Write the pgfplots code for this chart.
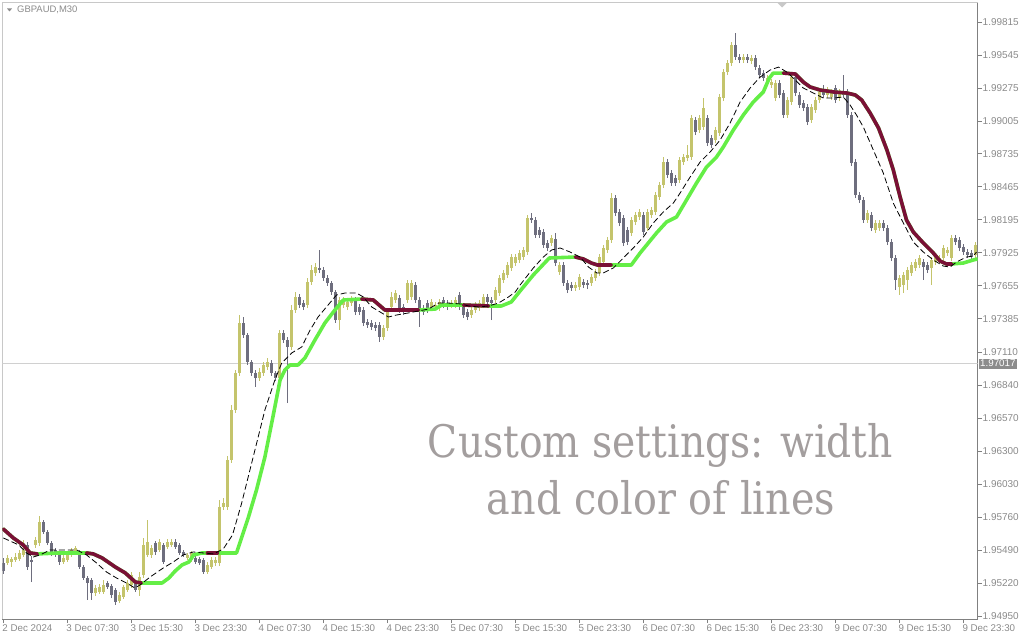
\documentclass[border=0pt]{standalone}
\usepackage{pgfplots}
\pgfplotsset{compat=1.18}
\usepackage{pgfplotstable}
\usepackage{graphicx}
\usepackage{fontspec}
\setmainfont{Liberation Sans}
\newfontfamily\slab{DejaVu Serif}
\definecolor{upc}{RGB}{196,196,108}
\definecolor{dnc}{RGB}{110,110,126}
\definecolor{lgreen}{RGB}{100,238,70}
\definecolor{maroonc}{RGB}{122,16,54}
\definecolor{axgray}{RGB}{128,128,128}
\definecolor{lblgray}{RGB}{138,138,138}
\definecolor{framec}{RGB}{200,200,200}
\definecolor{txtgray}{RGB}{163,158,158}

\pgfplotstableread{
x o h l c
0 1.95384 1.95425 1.95294 1.95319
1 1.95384 1.95450 1.95368 1.95425
2 1.95392 1.95433 1.95351 1.95417
3 1.95409 1.95466 1.95392 1.95433
4 1.95417 1.95491 1.95400 1.95466
5 1.95450 1.95572 1.95433 1.95491
6 1.95531 1.95556 1.95327 1.95351
7 1.95409 1.95441 1.95228 1.95392
8 1.95531 1.95597 1.95507 1.95572
9 1.95548 1.95769 1.95523 1.95720
10 1.95720 1.95736 1.95622 1.95638
11 1.95638 1.95654 1.95531 1.95548
12 1.95548 1.95564 1.95441 1.95466
13 1.95491 1.95507 1.95433 1.95450
14 1.95450 1.95466 1.95368 1.95392
15 1.95392 1.95450 1.95376 1.95425
16 1.95409 1.95482 1.95392 1.95466
17 1.95450 1.95507 1.95433 1.95491
18 1.95466 1.95523 1.95450 1.95507
19 1.95474 1.95491 1.95335 1.95351
20 1.95351 1.95368 1.95245 1.95261
21 1.95261 1.95278 1.95081 1.95220
22 1.95245 1.95261 1.95081 1.95138
23 1.95138 1.95204 1.95114 1.95179
24 1.95147 1.95212 1.95130 1.95187
25 1.95147 1.95245 1.95130 1.95204
26 1.95220 1.95237 1.95171 1.95187
27 1.95196 1.95212 1.95097 1.95122
28 1.95163 1.95179 1.95040 1.95065
29 1.95073 1.95147 1.95056 1.95122
30 1.95106 1.95204 1.95089 1.95187
31 1.95163 1.95245 1.95147 1.95220
32 1.95204 1.95310 1.95179 1.95286
33 1.95220 1.95237 1.95147 1.95163
34 1.95163 1.95310 1.95114 1.95269
35 1.95286 1.95589 1.95261 1.95531
36 1.95450 1.95736 1.95433 1.95556
37 1.95450 1.95531 1.95425 1.95507
38 1.95548 1.95564 1.95450 1.95474
39 1.95491 1.95581 1.95474 1.95556
40 1.95531 1.95548 1.95376 1.95392
41 1.95515 1.95581 1.95499 1.95556
42 1.95531 1.95581 1.95515 1.95556
43 1.95556 1.95581 1.95499 1.95515
44 1.95531 1.95548 1.95450 1.95466
45 1.95474 1.95491 1.95433 1.95450
46 1.95425 1.95466 1.95409 1.95450
47 1.95409 1.95482 1.95392 1.95466
48 1.95425 1.95441 1.95376 1.95392
49 1.95417 1.95433 1.95368 1.95384
50 1.95409 1.95425 1.95294 1.95310
51 1.95310 1.95392 1.95294 1.95368
52 1.95351 1.95433 1.95335 1.95409
53 1.95384 1.95433 1.95359 1.95409
54 1.95384 1.95900 1.95359 1.95843
55 1.95843 1.95916 1.95818 1.95875
56 1.95843 1.96260 1.95818 1.96228
57 1.96228 1.96678 1.96203 1.96637
58 1.96637 1.96965 1.96612 1.96940
59 1.96940 1.97415 1.96916 1.97350
60 1.97350 1.97399 1.97227 1.97251
61 1.97251 1.97268 1.97006 1.97030
62 1.97030 1.97047 1.96916 1.96940
63 1.96940 1.96965 1.96826 1.96899
64 1.96899 1.96981 1.96875 1.96948
65 1.96940 1.97030 1.96916 1.97006
66 1.96989 1.97063 1.96965 1.97030
67 1.97022 1.97047 1.96916 1.96940
68 1.96940 1.96957 1.96875 1.96899
69 1.96899 1.97292 1.96875 1.97268
70 1.97268 1.97292 1.97186 1.97210
71 1.97210 1.97235 1.96694 1.97153
72 1.97153 1.97497 1.97129 1.97456
73 1.97456 1.97604 1.97432 1.97563
74 1.97563 1.97587 1.97472 1.97497
75 1.97513 1.97538 1.97456 1.97481
76 1.97497 1.97718 1.97472 1.97685
77 1.97685 1.97825 1.97661 1.97784
78 1.97759 1.97841 1.97735 1.97808
79 1.97800 1.97948 1.97759 1.97784
80 1.97784 1.97808 1.97694 1.97718
81 1.97718 1.97743 1.97653 1.97677
82 1.97677 1.97694 1.97579 1.97604
83 1.97604 1.97620 1.97350 1.97374
84 1.97374 1.97563 1.97292 1.97538
85 1.97497 1.97563 1.97472 1.97538
86 1.97481 1.97546 1.97456 1.97522
87 1.97513 1.97571 1.97489 1.97538
88 1.97538 1.97563 1.97415 1.97440
89 1.97481 1.97505 1.97415 1.97440
90 1.97456 1.97481 1.97325 1.97350
91 1.97358 1.97382 1.97309 1.97333
92 1.97350 1.97374 1.97292 1.97317
93 1.97333 1.97358 1.97284 1.97309
94 1.97333 1.97358 1.97194 1.97235
95 1.97235 1.97333 1.97210 1.97309
96 1.97309 1.97464 1.97284 1.97440
97 1.97481 1.97604 1.97456 1.97563
98 1.97538 1.97620 1.97513 1.97595
99 1.97554 1.97579 1.97432 1.97456
100 1.97481 1.97505 1.97415 1.97440
101 1.97538 1.97702 1.97513 1.97677
102 1.97563 1.97702 1.97538 1.97677
103 1.97661 1.97685 1.97513 1.97538
104 1.97538 1.97563 1.97317 1.97456
105 1.97472 1.97497 1.97415 1.97440
106 1.97513 1.97538 1.97432 1.97456
107 1.97481 1.97546 1.97456 1.97522
108 1.97481 1.97522 1.97456 1.97497
109 1.97472 1.97546 1.97448 1.97522
110 1.97538 1.97563 1.97472 1.97497
111 1.97513 1.97538 1.97456 1.97481
112 1.97497 1.97538 1.97472 1.97513
113 1.97497 1.97563 1.97472 1.97538
114 1.97579 1.97604 1.97456 1.97481
115 1.97481 1.97505 1.97391 1.97415
116 1.97440 1.97464 1.97374 1.97399
117 1.97415 1.97481 1.97391 1.97456
118 1.97456 1.97522 1.97432 1.97497
119 1.97472 1.97538 1.97448 1.97513
120 1.97497 1.97587 1.97472 1.97563
121 1.97563 1.97587 1.97497 1.97522
122 1.97538 1.97563 1.97374 1.97513
123 1.97538 1.97644 1.97513 1.97620
124 1.97595 1.97743 1.97571 1.97718
125 1.97702 1.97784 1.97677 1.97759
126 1.97743 1.97849 1.97718 1.97825
127 1.97800 1.97915 1.97776 1.97890
128 1.97841 1.97915 1.97816 1.97890
129 1.97866 1.97948 1.97841 1.97923
130 1.97890 1.97972 1.97866 1.97948
131 1.97931 1.98234 1.97907 1.98210
132 1.98210 1.98251 1.98169 1.98193
133 1.98193 1.98218 1.98046 1.98070
134 1.98111 1.98136 1.98046 1.98070
135 1.98095 1.98120 1.97964 1.97988
136 1.98005 1.98029 1.97939 1.97964
137 1.98005 1.98070 1.97980 1.98046
138 1.98038 1.98087 1.97816 1.97841
139 1.97767 1.97849 1.97743 1.97825
140 1.97825 1.97849 1.97653 1.97677
141 1.97677 1.97702 1.97595 1.97620
142 1.97661 1.97685 1.97612 1.97636
143 1.97636 1.97685 1.97612 1.97661
144 1.97644 1.97751 1.97620 1.97726
145 1.97685 1.97710 1.97636 1.97661
146 1.97677 1.97702 1.97628 1.97661
147 1.97677 1.97751 1.97653 1.97726
148 1.97718 1.97792 1.97694 1.97767
149 1.97759 1.97915 1.97735 1.97890
150 1.97849 1.97988 1.97825 1.97964
151 1.97948 1.98054 1.97923 1.98029
152 1.98029 1.98414 1.98005 1.98373
153 1.98373 1.98398 1.98226 1.98251
154 1.98259 1.98283 1.98144 1.98169
155 1.98210 1.98234 1.97980 1.98005
156 1.98111 1.98136 1.97988 1.98013
157 1.98087 1.98218 1.98062 1.98193
158 1.98177 1.98259 1.98152 1.98234
159 1.98218 1.98283 1.98193 1.98259
160 1.98234 1.98259 1.98070 1.98095
161 1.98128 1.98283 1.98103 1.98259
162 1.98234 1.98300 1.98210 1.98275
163 1.98259 1.98423 1.98234 1.98398
164 1.98382 1.98504 1.98357 1.98480
165 1.98480 1.98709 1.98455 1.98668
166 1.98668 1.98693 1.98537 1.98562
167 1.98578 1.98603 1.98472 1.98496
168 1.98537 1.98562 1.98472 1.98496
169 1.98521 1.98709 1.98496 1.98685
170 1.98668 1.98734 1.98644 1.98709
171 1.98701 1.98807 1.98676 1.98726
172 1.98709 1.99053 1.98685 1.99029
173 1.99012 1.99037 1.98889 1.98914
174 1.98930 1.99053 1.98906 1.99029
175 1.98955 1.99192 1.98930 1.99110
176 1.99029 1.99053 1.98799 1.98824
177 1.98865 1.98889 1.98783 1.98807
178 1.98848 1.98955 1.98824 1.98930
179 1.98906 1.99225 1.98881 1.99201
180 1.99192 1.99430 1.99168 1.99405
181 1.99405 1.99504 1.99381 1.99479
182 1.99479 1.99651 1.99454 1.99626
183 1.99626 1.99725 1.99504 1.99528
184 1.99528 1.99553 1.99479 1.99504
185 1.99504 1.99553 1.99479 1.99528
186 1.99528 1.99553 1.99479 1.99504
187 1.99495 1.99545 1.99471 1.99520
188 1.99520 1.99545 1.99422 1.99446
189 1.99438 1.99463 1.99356 1.99381
190 1.99397 1.99422 1.99332 1.99356
191 1.99315 1.99381 1.99291 1.99356
192 1.99299 1.99348 1.99274 1.99323
193 1.99192 1.99340 1.99168 1.99315
194 1.99315 1.99340 1.99192 1.99217
195 1.99233 1.99258 1.99029 1.99053
196 1.99053 1.99201 1.99029 1.99176
197 1.99160 1.99389 1.99135 1.99364
198 1.99364 1.99389 1.99209 1.99233
199 1.99217 1.99242 1.99110 1.99135
200 1.99151 1.99176 1.99086 1.99110
201 1.99119 1.99143 1.98971 1.98996
202 1.99012 1.99143 1.98988 1.99119
203 1.99094 1.99201 1.99070 1.99176
204 1.99176 1.99266 1.99151 1.99242
205 1.99258 1.99299 1.99192 1.99217
206 1.99217 1.99283 1.99192 1.99258
207 1.99201 1.99266 1.99176 1.99242
208 1.99274 1.99299 1.99151 1.99176
209 1.99192 1.99266 1.99168 1.99242
210 1.99242 1.99381 1.99192 1.99217
211 1.99242 1.99266 1.99029 1.99053
212 1.99053 1.99078 1.98635 1.98660
213 1.98668 1.98693 1.98373 1.98398
214 1.98398 1.98423 1.98332 1.98357
215 1.98357 1.98382 1.98169 1.98193
216 1.98193 1.98275 1.98169 1.98251
217 1.98234 1.98259 1.98103 1.98128
218 1.98111 1.98193 1.98087 1.98169
219 1.98128 1.98193 1.98103 1.98169
220 1.98169 1.98193 1.98103 1.98128
221 1.98128 1.98152 1.97988 1.98013
222 1.98013 1.98038 1.97857 1.97882
223 1.97882 1.97907 1.97620 1.97702
224 1.97644 1.97743 1.97579 1.97718
225 1.97661 1.97767 1.97595 1.97743
226 1.97702 1.97808 1.97620 1.97784
227 1.97759 1.97849 1.97735 1.97825
228 1.97800 1.97874 1.97776 1.97849
229 1.97825 1.97907 1.97800 1.97882
230 1.97849 1.97874 1.97702 1.97808
231 1.97825 1.97849 1.97759 1.97784
232 1.97800 1.97890 1.97661 1.97866
233 1.97849 1.97915 1.97825 1.97890
234 1.97866 1.97907 1.97841 1.97882
235 1.97882 1.97988 1.97857 1.97964
236 1.97923 1.97972 1.97898 1.97948
237 1.97882 1.98070 1.97857 1.98046
238 1.98046 1.98070 1.97988 1.98013
239 1.98029 1.98054 1.97939 1.97964
240 1.97972 1.97997 1.97907 1.97931
241 1.97931 1.97956 1.97882 1.97907
242 1.97923 1.97948 1.97866 1.97890
243 1.97907 1.98013 1.97882 1.97988
}\candles

\pgfplotstableread{
x y
0 1.95662
2.5 1.95589
5 1.95531
6.7 1.95466
8.5 1.95458
14 1.95466
20.8 1.95466
22.5 1.95458
24.7 1.95425
28 1.95351
30.5 1.95302
33 1.95228
34.5 1.95220
39.7 1.95220
41.4 1.95261
43 1.95319
44.7 1.95368
46.4 1.95392
47.6 1.95450
49.7 1.95466
51 1.95466
53.5 1.95466
58.3 1.95466
61.3 1.95761
63.3 1.95982
65.4 1.96252
67.4 1.96580
69.2 1.96883
70.4 1.96965
71.7 1.97006
73.7 1.97006
75.4 1.97063
77.9 1.97210
80.4 1.97350
82.9 1.97456
85 1.97538
89.6 1.97546
92.5 1.97538
95.4 1.97456
103.8 1.97456
108 1.97464
109.6 1.97497
115 1.97497
121.3 1.97489
124.5 1.97489
127 1.97522
129 1.97604
132.5 1.97743
136.5 1.97882
143 1.97890
145 1.97874
147 1.97841
148.5 1.97825
152 1.97825
157 1.97825
159.2 1.97923
163.3 1.98087
165.8 1.98177
168.3 1.98218
170.8 1.98357
173.3 1.98496
175.8 1.98627
178.3 1.98709
180 1.98791
182.5 1.98930
185 1.99053
187.5 1.99160
190 1.99242
191.5 1.99356
192.5 1.99397
195 1.99397
198 1.99389
200 1.99323
201.7 1.99283
204.2 1.99258
207.6 1.99242
211 1.99233
213 1.99217
214.6 1.99176
216.7 1.99070
218.8 1.98947
220.9 1.98767
222.5 1.98603
224.2 1.98382
225.8 1.98193
227.5 1.98095
230 1.98005
232.5 1.97923
234.2 1.97857
235.8 1.97833
237.1 1.97833
240 1.97841
242.5 1.97866
243.5 1.97874
}\trend

\pgfplotstableread{
x y
0 1.95589
3.9 1.95531
5.8 1.95466
7.5 1.95433
9.2 1.95450
11.7 1.95491
18.3 1.95491
20.8 1.95450
23.3 1.95384
25.8 1.95310
28.3 1.95261
30.8 1.95220
32.9 1.95179
34.2 1.95204
36.7 1.95269
40 1.95343
42.5 1.95392
45 1.95450
47.5 1.95474
50 1.95466
52.5 1.95458
55 1.95499
57.3 1.95613
59.6 1.95875
62.1 1.96203
65.4 1.96637
67.9 1.96883
69.6 1.97022
72.1 1.97104
74.6 1.97153
76.7 1.97292
78.7 1.97399
81.2 1.97497
83.3 1.97579
85.4 1.97595
88.3 1.97595
90 1.97563
92.1 1.97481
94.6 1.97432
96.3 1.97399
98.3 1.97415
101.3 1.97432
103.8 1.97448
106.3 1.97464
108.8 1.97513
111.3 1.97513
114.6 1.97505
116.3 1.97489
118.8 1.97481
121.3 1.97489
123.8 1.97513
126.3 1.97563
128 1.97604
129.2 1.97661
132.5 1.97800
135 1.97890
137.1 1.97948
139.2 1.97964
141.7 1.97931
144.2 1.97890
146.3 1.97808
148.4 1.97759
150 1.97759
152.5 1.97800
155 1.97882
157.5 1.97964
160 1.98054
162.5 1.98169
165 1.98259
167.5 1.98332
169.2 1.98414
171.7 1.98545
174.2 1.98668
176.7 1.98750
179.2 1.98848
181.7 1.98988
184.2 1.99160
186.7 1.99274
189.2 1.99364
191.7 1.99422
193.8 1.99446
195.9 1.99405
198 1.99340
200 1.99274
202.5 1.99233
205 1.99192
207.5 1.99192
210 1.99201
211.7 1.99135
213.3 1.99053
215 1.98955
217.5 1.98767
220 1.98578
222.5 1.98332
225 1.98169
227.5 1.98013
230 1.97931
232.5 1.97866
235 1.97816
236.7 1.97808
238.3 1.97849
240.8 1.97890
242.5 1.97898
243.3 1.97931
}\dashma

\begin{document}
\begin{tikzpicture}
\useasboundingbox (0,0) rectangle (1024bp,640bp);
\begin{axis}[
  at={(2.5bp,21bp)}, anchor=south west,
  scale only axis, width=975bp, height=616.5bp,
  xmin=-0.2, xmax=243.55, ymin=1.94925, ymax=1.99975,
  axis x line*=bottom, axis y line*=right,
  axis line style={draw=axgray, line width=0.8bp},
  xtick={0,16,32,48,64,80,96,112,128,144,160,176,192,208,224,240},
  xticklabels={2 Dec 2024,3 Dec 07:30,3 Dec 15:30,3 Dec 23:30,4 Dec 07:30,4 Dec 15:30,4 Dec 23:30,5 Dec 07:30,5 Dec 15:30,5 Dec 23:30,6 Dec 07:30,6 Dec 15:30,6 Dec 23:30,9 Dec 07:30,9 Dec 15:30,9 Dec 23:30},
  ytick={1.94950,1.95220,1.95490,1.95760,1.96030,1.96300,1.96570,1.96840,1.97110,1.97385,1.97655,1.97925,1.98195,1.98465,1.98735,1.99005,1.99275,1.99545,1.99815},
  yticklabels={1.94950,1.95220,1.95490,1.95760,1.96030,1.96300,1.96570,1.96840,1.97110,1.97385,1.97655,1.97925,1.98195,1.98465,1.98735,1.99005,1.99275,1.99545,1.99815},
  tick align=outside, major tick length=4bp,
  tick style={draw=axgray, line width=0.8bp},
  xticklabel style={anchor=north west, font=\fontsize{9.8}{11}\selectfont, text=lblgray, xshift=-2bp, inner sep=1bp},
  yticklabel style={anchor=west, font=\fontsize{10}{11}\selectfont, text=lblgray, inner sep=1bp},
  clip mode=individual,
  unbounded coords=discard,
]
% frame (top and left)
\draw[framec, line width=0.8bp] (rel axis cs:0,0) -- (rel axis cs:0,1) -- (rel axis cs:1,1);
% current price line
\addplot[draw={rgb,255:red,208;green,208;blue,208}, line width=0.8bp, forget plot] coordinates {(-0.2,1.97017) (243.55,1.97017)};
% wicks
\addplot[draw=none, mark=none, forget plot, restrict expr to domain={\thisrow{c}-\thisrow{o}}{0:1},
  error bars/.cd, y dir=plus, y explicit, error mark=none, error bar style={draw=upc, line width=1bp}]
  table[x=x, y=l, y error expr={\thisrow{h}-\thisrow{l}}] {\candles};
\addplot[draw=none, mark=none, forget plot, restrict expr to domain={\thisrow{c}-\thisrow{o}}{-1:0},
  error bars/.cd, y dir=plus, y explicit, error mark=none, error bar style={draw=dnc, line width=1bp}]
  table[x=x, y=l, y error expr={\thisrow{h}-\thisrow{l}}] {\candles};
% bodies
\addplot[draw=none, mark=none, forget plot, restrict expr to domain={\thisrow{c}-\thisrow{o}}{0:1},
  error bars/.cd, y dir=plus, y explicit, error mark=none, error bar style={draw=upc, line width=3bp}]
  table[x=x, y=o, y error expr={\thisrow{c}-\thisrow{o}}] {\candles};
\addplot[draw=none, mark=none, forget plot, restrict expr to domain={\thisrow{c}-\thisrow{o}}{-1:0},
  error bars/.cd, y dir=plus, y explicit, error mark=none, error bar style={draw=dnc, line width=3bp}]
  table[x=x, y=c, y error expr={\thisrow{o}-\thisrow{c}}] {\candles};
% thick trend line
\addplot[draw=lgreen, line width=3.6bp, line join=round, line cap=round, mark=none] table[x=x,y=y] {\trend};
\addplot[draw=maroonc, line width=3.6bp, line join=round, line cap=round, mark=none] coordinates {(0,1.95662) (2.5,1.95589) (5,1.95531) (6.7,1.95466) (8.5,1.95458)};
\addplot[draw=maroonc, line width=3.6bp, line join=round, line cap=round, mark=none] coordinates {(20.8,1.95466) (22.5,1.95458) (24.7,1.95425) (28,1.95351) (30.5,1.95302) (33,1.95228) (34.5,1.95220)};
\addplot[draw=maroonc, line width=3.6bp, line join=round, line cap=round, mark=none] coordinates {(51,1.95466) (53.5,1.95466)};
\addplot[draw=maroonc, line width=3.6bp, line join=round, line cap=round, mark=none] coordinates {(89.6,1.97546) (92.5,1.97538) (95.4,1.97456) (103.8,1.97456)};
\addplot[draw=maroonc, line width=3.6bp, line join=round, line cap=round, mark=none] coordinates {(115,1.97497) (121.3,1.97489)};
\addplot[draw=maroonc, line width=3.6bp, line join=round, line cap=round, mark=none] coordinates {(143,1.97890) (145,1.97874) (147,1.97841) (148.5,1.97825) (152,1.97825)};
\addplot[draw=maroonc, line width=3.6bp, line join=round, line cap=round, mark=none] coordinates {(195,1.99397) (198,1.99389) (200,1.99323) (201.7,1.99283) (204.2,1.99258) (207.6,1.99242) (211,1.99233) (213,1.99217) (214.6,1.99176) (216.7,1.99070) (218.8,1.98947) (220.9,1.98767) (222.5,1.98603) (224.2,1.98382) (225.8,1.98193) (227.5,1.98095) (230,1.98005) (232.5,1.97923) (234.2,1.97857) (235.8,1.97833) (237.1,1.97833)};
% dashed MA
\addplot[draw=black, line width=0.8bp, dash pattern=on 6bp off 3bp, mark=none] table[x=x,y=y] {\dashma};
% price label
\node[anchor=west, fill={rgb,255:red,140;green,140;blue,140}, text=white, inner xsep=1.5bp, inner ysep=1.5bp, font=\fontsize{9.8}{11}\selectfont, xshift=1bp] at (axis cs:243.55,1.97017) {1.97017};
\end{axis}
% top-left symbol label
\fill[lblgray] (7bp,631.5bp) -- (12bp,631.5bp) -- (9.5bp,628.5bp) -- cycle;
\node[anchor=west, text=lblgray, font=\fontsize{9.5}{11}\selectfont, inner sep=0pt] at (17bp,630bp) {GBPAUD,M30};
\fill[framec] (777bp,637.5bp) -- (787bp,637.5bp) -- (782bp,632.5bp) -- cycle;
% overlay text
\node[anchor=base, text=txtgray, inner sep=0pt] at (660.5bp,182bp) {\resizebox{465bp}{\height}{\slab\fontsize{45}{54}\selectfont Custom settings: width}};
\node[anchor=base, text=txtgray, inner sep=0pt] at (661bp,125bp) {\resizebox{348bp}{\height}{\slab\fontsize{45}{54}\selectfont and color of lines}};
\end{tikzpicture}
\end{document}
